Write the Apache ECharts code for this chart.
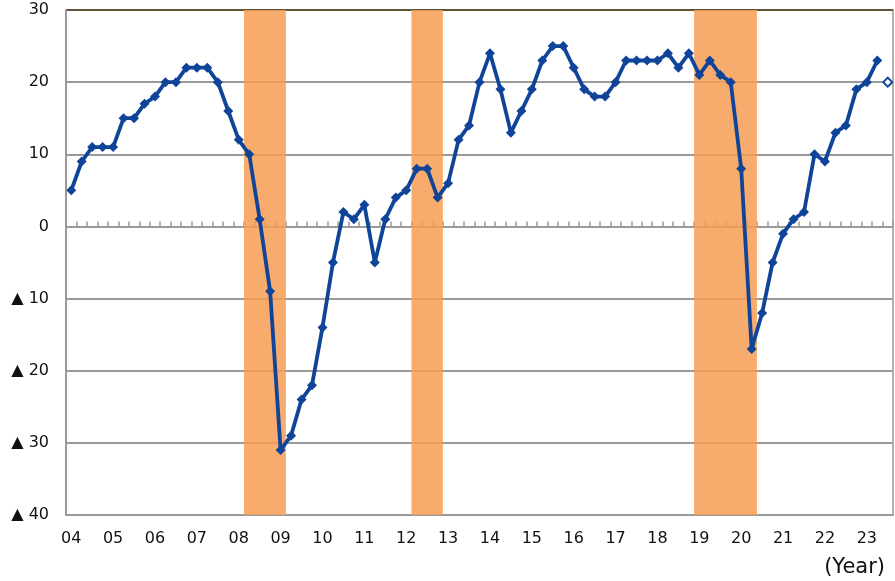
<!DOCTYPE html>
<html>
<head>
<meta charset="utf-8">
<script src="https://cdn.jsdelivr.net/npm/echarts@6/dist/echarts.min.js"></script>
<style>
  html, body { margin: 0; padding: 0; background: #fff; }
  #chart { width: 895px; height: 581px; }
</style>
</head>
<body>
<div id="chart"></div>
<script>
// quarterly values, 2004 Q1 .. 2023 Q2
var diValues = [
  5, 9, 11, 11,      // 04
  11, 15, 15, 17,    // 05
  18, 20, 20, 22,    // 06
  22, 22, 20, 16,    // 07
  12, 10, 1, -9,     // 08
  -31, -29, -24, -22, // 09
  -14, -5, 2, 1,     // 10
  3, -5, 1, 4,       // 11
  5, 8, 8, 4,        // 12
  6, 12, 14, 20,     // 13
  24, 19, 13, 16,    // 14
  19, 23, 25, 25,    // 15
  22, 19, 18, 18,    // 16
  20, 23, 23, 23,    // 17
  23, 24, 22, 24,    // 18
  21, 23, 21, 20,    // 19
  8, -17, -12, -5,   // 20
  -1, 1, 2, 10,      // 21
  9, 13, 14, 19,     // 22
  20, 23             // 23
];
// forecast for the next quarter (hollow marker)
var forecastValue = 20;
// recession periods as [first quarter index, last quarter index]
var recessions = [[17, 20], [33, 35], [60, 65]];
var yMin = -40, yMax = 30, yStep = 10;

var startYear = 2004;
var nQuarters = diValues.length + 1;
var categories = [];
for (var i = 0; i < nQuarters; i++) {
  var yr = startYear + Math.floor(i / 4);
  categories.push(String(yr).slice(2) + "Q" + (i % 4 + 1));
}

var lineData = diValues.slice();
lineData.push(null);
var forecastData = categories.map(function (c, i) {
  return i === nQuarters - 1 ? forecastValue : null;
});

var FONT = "DejaVu Sans";
var BLUE = "#0f4499";
var ORANGE = "#f69c52";
var GRAY = "#9a9a9a";
var TOPLINE = "#5e5436";

// one shaded rectangle per recession, from the band start of the first
// quarter to the band end of the last quarter
function renderRecession(params, api) {
  var band = api.size([1, 0])[0];
  var p0 = api.coord([api.value(0), yMax]);
  var p1 = api.coord([api.value(1), yMin]);
  return {
    type: "rect",
    shape: {
      x: p0[0] - band / 2,
      y: p0[1],
      width: p1[0] - p0[0] + band,
      height: p1[1] - p0[1]
    },
    style: { fill: ORANGE, opacity: 0.85 }
  };
}

var myChart = echarts.init(document.getElementById("chart"));
myChart.setOption({
  backgroundColor: "#ffffff",
  animation: false,
  grid: {
    left: 66,
    right: 2,
    top: 10,
    bottom: 66,
    show: true,
    borderColor: GRAY,
    borderWidth: 1.5
  },
  xAxis: [
    {
      type: "category",
      data: categories,
      boundaryGap: true,
      axisLine: { onZero: false, lineStyle: { color: GRAY, width: 2 } },
      axisTick: { show: false },
      axisLabel: {
        interval: 3,
        margin: 16,
        color: "#111",
        fontFamily: FONT,
        fontSize: 16,
        formatter: function (v) { return v.slice(0, 2); }
      },
      splitLine: { show: false }
    },
    {
      type: "category",
      data: categories,
      position: "top",
      boundaryGap: true,
      axisLine: { onZero: true, lineStyle: { color: GRAY, width: 1.5 } },
      axisTick: { show: true, interval: 0, length: 5, lineStyle: { color: GRAY, width: 1.5 } },
      axisLabel: { show: false },
      splitLine: { show: false }
    }
  ],
  yAxis: {
    type: "value",
    min: yMin,
    max: yMax,
    interval: yStep,
    axisLine: { show: true, lineStyle: { color: GRAY, width: 2 } },
    axisTick: { show: false },
    axisLabel: {
      margin: 17,
      color: "#111",
      fontFamily: FONT,
      fontSize: 16,
      formatter: function (v) { return v < 0 ? "\u25B2 " + (-v) : String(v); }
    },
    splitLine: {
      show: true,
      lineStyle: {
        color: [GRAY, GRAY, GRAY, GRAY, GRAY, GRAY, GRAY, TOPLINE],
        width: 1.8
      }
    }
  },
  graphic: [
    {
      type: "text",
      right: 10,
      bottom: 3,
      style: { text: "(Year)", fill: "#111", font: "21px " + FONT }
    }
  ],
  series: [
    {
      name: "recession",
      type: "custom",
      renderItem: renderRecession,
      data: recessions,
      encode: { x: [0, 1] },
      silent: true,
      z: 1
    },
    {
      name: "DI",
      type: "line",
      data: lineData,
      symbol: "diamond",
      symbolSize: 10,
      showAllSymbol: true,
      lineStyle: { color: BLUE, width: 3.8 },
      itemStyle: { color: BLUE },
      z: 5
    },
    {
      name: "forecast",
      type: "line",
      data: forecastData,
      symbol: "emptyDiamond",
      symbolSize: 9,
      showAllSymbol: true,
      lineStyle: { width: 0 },
      itemStyle: { color: BLUE, borderColor: BLUE, borderWidth: 1.3 },
      z: 5
    }
  ]
});
</script>
</body>
</html>
